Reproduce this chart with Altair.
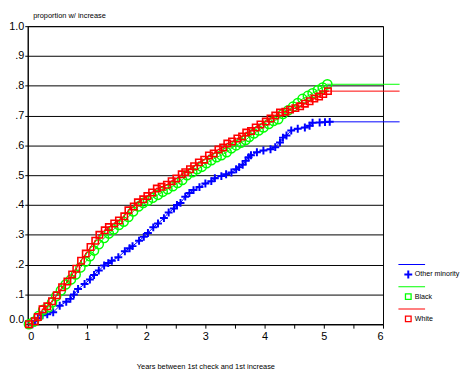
import altair as alt
import pandas as pd

# ---- data -------------------------------------------------------------
white_x = [0.02, 0.12, 0.17, 0.25, 0.33, 0.41, 0.49, 0.58, 0.67, 0.75, 0.82, 0.90, 0.98,
           1.06, 1.14, 1.21, 1.30, 1.37, 1.46, 1.54, 1.63, 1.70, 1.79, 1.86, 1.95, 2.02,
           2.10, 2.18, 2.26, 2.35, 2.43, 2.51, 2.60, 2.66, 2.74, 2.81, 2.89, 2.98, 3.06,
           3.14, 3.22, 3.30, 3.37, 3.45, 3.54, 3.62, 3.69, 3.77, 3.85, 3.93, 4.02, 4.10,
           4.18, 4.26, 4.35, 4.43, 4.52, 4.60, 4.68, 4.76, 4.84, 4.92, 4.99, 5.07]
white_y = [0.000, 0.010, 0.024, 0.050, 0.060, 0.077, 0.097, 0.124, 0.143, 0.167, 0.186, 0.213, 0.237,
           0.259, 0.280, 0.300, 0.315, 0.326, 0.338, 0.348, 0.362, 0.382, 0.395, 0.409, 0.419, 0.430,
           0.442, 0.455, 0.461, 0.468, 0.480, 0.489, 0.503, 0.510, 0.520, 0.530, 0.543, 0.552, 0.566,
           0.573, 0.586, 0.593, 0.606, 0.613, 0.623, 0.630, 0.643, 0.648, 0.660, 0.670, 0.680, 0.690,
           0.700, 0.710, 0.713, 0.720, 0.725, 0.731, 0.740, 0.748, 0.757, 0.764, 0.772, 0.782]

black_x = [0.02, 0.10, 0.18, 0.26, 0.35, 0.41, 0.48, 0.56, 0.64, 0.73, 0.81, 0.89, 0.98,
           1.05, 1.12, 1.20, 1.29, 1.37, 1.45, 1.54, 1.62, 1.70, 1.78, 1.87, 1.95, 2.03,
           2.11, 2.20, 2.28, 2.36, 2.45, 2.53, 2.61, 2.69, 2.78, 2.86, 2.94, 3.02, 3.10,
           3.19, 3.27, 3.36, 3.44, 3.52, 3.60, 3.68, 3.74, 3.82, 3.90, 3.98, 4.07, 4.15,
           4.23, 4.31, 4.40, 4.48, 4.56, 4.64, 4.73, 4.81, 4.90, 4.98, 5.06]
black_y = [0.000, 0.008, 0.027, 0.048, 0.057, 0.073, 0.094, 0.113, 0.133, 0.150, 0.167, 0.190, 0.210,
           0.228, 0.247, 0.268, 0.289, 0.304, 0.318, 0.333, 0.344, 0.360, 0.378, 0.395, 0.407, 0.414,
           0.424, 0.434, 0.444, 0.453, 0.463, 0.474, 0.484, 0.500, 0.510, 0.520, 0.528, 0.540, 0.550,
           0.560, 0.567, 0.577, 0.590, 0.600, 0.609, 0.618, 0.628, 0.640, 0.650, 0.660, 0.672, 0.682,
           0.688, 0.705, 0.718, 0.730, 0.742, 0.756, 0.766, 0.775, 0.786, 0.794, 0.805]

other_x = [0.08, 0.12, 0.17, 0.25, 0.33, 0.43, 0.54, 0.65, 0.72, 0.78, 0.85, 0.96, 1.05, 1.12,
           1.20, 1.29, 1.36, 1.42, 1.53, 1.64, 1.72, 1.77, 1.88, 1.96, 2.03, 2.12, 2.20, 2.30,
           2.38, 2.47, 2.52, 2.58, 2.66, 2.73, 2.80, 2.90, 3.00, 3.10, 3.16, 3.27, 3.35, 3.44,
           3.52, 3.57, 3.63, 3.68, 3.73, 3.77, 3.87, 3.98, 4.10, 4.18, 4.26, 4.31, 4.37, 4.45,
           4.56, 4.68, 4.76, 4.81, 4.93, 5.02, 5.10]
other_y = [0.000, 0.010, 0.020, 0.030, 0.033, 0.040, 0.062, 0.075, 0.085, 0.100, 0.118, 0.135, 0.150, 0.165,
           0.180, 0.197, 0.205, 0.213, 0.225, 0.245, 0.255, 0.262, 0.280, 0.293, 0.306, 0.325, 0.338, 0.356,
           0.375, 0.388, 0.400, 0.407, 0.428, 0.440, 0.450, 0.460, 0.472, 0.480, 0.490, 0.497, 0.503, 0.509,
           0.520, 0.527, 0.535, 0.548, 0.560, 0.567, 0.577, 0.583, 0.587, 0.594, 0.610, 0.626, 0.633, 0.650,
           0.656, 0.660, 0.666, 0.676, 0.677, 0.678, 0.679]

tail_end_x = 6.28

groups = ["Other minority", "Black", "White"]
colors = ["#0000FF", "#00FF00", "#FF0000"]

FONT = "Liberation Sans"


def frame(name, xs, ys):
    return pd.DataFrame({"t": xs, "p": ys, "group": name})


pts_other = frame("Other minority", other_x, other_y)
pts_black = frame("Black", black_x, black_y)
pts_white = frame("White", white_x, white_y)


def with_tail(df):
    tail = pd.DataFrame({"t": [tail_end_x], "p": [df["p"].iloc[-1]], "group": [df["group"].iloc[0]]})
    return pd.concat([df, tail], ignore_index=True)


line_other = with_tail(pts_other)
line_black = with_tail(pts_black)
line_white = with_tail(pts_white)

x_axis = alt.Axis(
    values=[0, 0.5, 1, 1.5, 2, 2.5, 3, 3.5, 4, 4.5, 5, 5.5, 6],
    labelExpr="datum.value % 1 == 0 ? format(datum.value, 'd') : ''",
    grid=False, tickSize=4, tickColor="black", domainColor="black",
    labelFont=FONT, labelFontSize=11, labelColor="black", labelPadding=2,
    title="Years between 1st check and 1st increase",
    titleFont=FONT, titleFontSize=7.5, titleFontWeight="normal", titleColor="black",
    titleY=42.5, titleBaseline="middle",
)
y_axis = alt.Axis(
    values=[0, 0.1, 0.2, 0.3, 0.4, 0.5, 0.6, 0.7, 0.8, 0.9, 1.0],
    labelExpr="datum.value == 0 ? '0.0' : (datum.value == 1 ? '1.0' : replace(format(datum.value, '.1f'), '0.', '.'))",
    grid=True, gridColor="black", gridOpacity=1, gridWidth=1,
    tickSize=3, tickColor="black", domainColor="black",
    labelFont=FONT, labelFontSize=11, labelColor="black", labelPadding=1,
    labelBaseline={"condition": {"test": "datum.value == 0", "value": "bottom"}, "value": "middle"},
    title="proportion w/ increase", titleAngle=0, titleAlign="left", titleBaseline="middle",
    titleX=5, titleY=-11, titleFont=FONT, titleFontSize=7.5, titleFontWeight="normal",
    titleColor="black",
)

X = alt.X("t:Q", scale=alt.Scale(domain=[0, 6], nice=False, zero=False), axis=x_axis)
Y = alt.Y("p:Q", scale=alt.Scale(domain=[0, 1], nice=False), axis=y_axis)


def line_layer(df, color):
    return alt.Chart(df).mark_line(color=color, strokeWidth=1, opacity=1).encode(x=X, y=Y)


plus_path = "M-1,0H1M0,-1V1"

layers = [
    line_layer(line_other, colors[0]),
    alt.Chart(pts_other).mark_point(shape=plus_path, filled=False, size=64, strokeWidth=2,
                                    color=colors[0], opacity=1).encode(x=X, y=Y),
    line_layer(line_black, colors[1]),
    alt.Chart(pts_black).mark_point(shape="circle", filled=False, size=85, strokeWidth=1.5,
                                    color=colors[1], opacity=1).encode(x=X, y=Y),
    line_layer(line_white, colors[2]),
    alt.Chart(pts_white).mark_point(shape="square", filled=False, size=42, strokeWidth=1.6,
                                    color=colors[2], opacity=1).encode(x=X, y=Y),
    alt.Chart(pts_white).mark_point(shape="square", filled=True, size=2.5,
                                    color=colors[2], opacity=1).encode(x=X, y=Y),
]

# legend: custom symbol = short line above + marker
legend_line = "M-10,-10.5H17V-9.5H-10Z"
legend_plus = legend_line + "M-1,-4H1V-1H4V1H1V4H-1V1H-4V-1H-1Z"
legend_square = legend_line + "M-3.5,-3.5H3.5V3.5H-3.5ZM-2.2,-2.2V2.2H2.2V-2.2Z"

all_pts = pd.concat([pts_other, pts_black, pts_white], ignore_index=True)
legend_cfg = alt.Legend(
    orient="none", legendX=382, legendY=248, title=None, padding=0,
    symbolSize=4, symbolStrokeWidth=0, symbolOpacity=1,
    labelFont=FONT, labelFontSize=7.2, labelColor="black", labelOffset=3,
    rowPadding=7.5,
)
legend_layer = alt.Chart(all_pts).transform_filter("false").mark_point(
    filled=True, opacity=1, size=4
).encode(
    x=X, y=Y,
    color=alt.Color("group:N", scale=alt.Scale(domain=groups, range=colors), legend=legend_cfg),
    shape=alt.Shape("group:N", scale=alt.Scale(domain=groups,
                                               range=[legend_plus, legend_square, legend_square]),
                    legend=legend_cfg),
)
layers.append(legend_layer)

chart = alt.layer(*layers).properties(
    width=360, height=302,
    autosize=alt.AutoSizeParams(type="none"),
    padding={"left": 20, "top": 16, "right": 78, "bottom": 44},
    background="white",
).configure_view(stroke="black", strokeWidth=1)

chart.save("out.html", embed_options={"renderer": "svg", "actions": False})
